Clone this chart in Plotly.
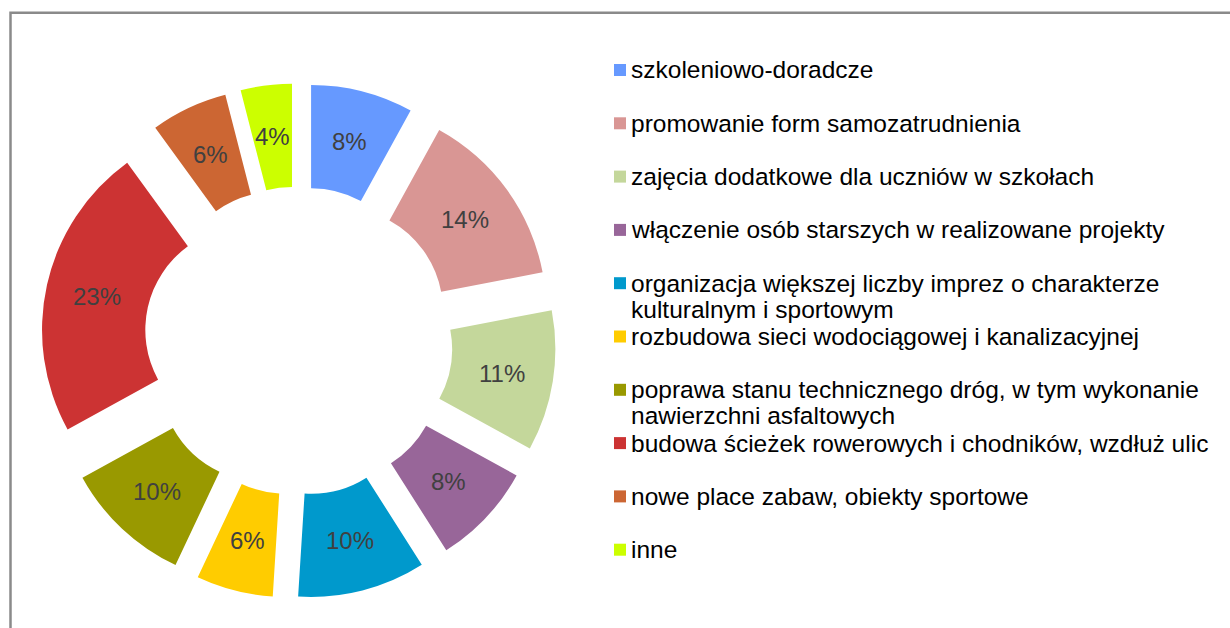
import math
import plotly.graph_objects as go

categories = [
    "szkoleniowo-doradcze",
    "promowanie form samozatrudnienia",
    "zajęcia dodatkowe dla uczniów w szkołach",
    "włączenie osób starszych w realizowane projekty",
    "organizacja większej liczby imprez o charakterze<br>kulturalnym i sportowym",
    "rozbudowa sieci wodociągowej i kanalizacyjnej",
    "poprawa stanu technicznego dróg, w tym wykonanie<br>nawierzchni asfaltowych",
    "budowa ścieżek rowerowych i chodników, wzdłuż ulic",
    "nowe place zabaw, obiekty sportowe",
    "inne",
]
values = [8, 14, 11, 8, 10, 6, 10, 23, 6, 4]
colors = ["#6699FF", "#D99694", "#C4D79B", "#986699", "#0099CC",
          "#FFCC00", "#999900", "#CC3333", "#CC6633", "#CCFF00"]

W, H = 1230, 628
FONT = "Liberation Sans, Arial, sans-serif"
HOLE = 0.5
PULL = 0.247
DOMAIN = dict(x=[40.8 / W, 556 / W], y=[1 - 598.6 / H, 1 - 83.4 / H])

fig = go.Figure(go.Pie(
    labels=[c.replace("<br>", " ") for c in categories],
    values=values,
    sort=False,
    direction="clockwise",
    rotation=0,
    hole=HOLE,
    pull=[PULL] * len(values),
    marker=dict(colors=colors, line=dict(width=0)),
    textinfo="none",
    hoverinfo="skip",
    showlegend=False,
    domain=DOMAIN,
))

annotations = []

# percentage labels at the middle of each pulled ring segment
# (pie geometry follows plotly's own sizing: r = box/2 / (1 + pull))
box_px = min((DOMAIN["x"][1] - DOMAIN["x"][0]) * W, (DOMAIN["y"][1] - DOMAIN["y"][0]) * H)
r_px = box_px / 2 / (1 + PULL)
cx_p = sum(DOMAIN["x"]) / 2
cy_p = sum(DOMAIN["y"]) / 2
dist_px = r_px * (PULL + (1 + HOLE) / 2)
total = sum(values)
cum = 0
for v in values:
    theta = math.radians((cum + v / 2) / total * 360)
    cum += v
    annotations.append(dict(
        xref="paper", yref="paper",
        x=cx_p + dist_px * math.sin(theta) / W,
        y=cy_p + dist_px * math.cos(theta) / H,
        xanchor="center", yanchor="middle",
        text=f"{round(v / total * 100)}%", showarrow=False,
        font=dict(family=FONT, size=24, color="#404040"),
    ))

# legend drawn as annotations + square swatches
shapes = []
item_y0, item_step, line_step = 70, 53.3, 26
for i, (cat, col) in enumerate(zip(categories, colors)):
    yc = item_y0 + item_step * i
    shapes.append(dict(type="rect", xref="paper", yref="paper",
                       x0=614 / W, x1=626 / W,
                       y0=1 - (yc + 6) / H, y1=1 - (yc - 6) / H,
                       fillcolor=col, line=dict(width=0)))
    for j, line in enumerate(cat.split("<br>")):
        annotations.append(dict(xref="paper", yref="paper",
                                x=629 / W, y=1 - (yc + line_step * j) / H,
                                xanchor="left", yanchor="middle",
                                text=line, showarrow=False,
                                font=dict(family=FONT, size=24.5, color="#000000")))

# outer frame
shapes.append(dict(type="rect", xref="paper", yref="paper",
                   x0=10.5 / W, x1=1.05, y0=-0.05, y1=1 - 12.8 / H,
                   line=dict(color="#8a8a8a", width=2.5), fillcolor="rgba(0,0,0,0)"))

fig.update_layout(
    width=W, height=H,
    margin=dict(l=0, r=0, t=0, b=0),
    paper_bgcolor="white",
    plot_bgcolor="white",
    shapes=shapes,
    annotations=annotations,
    font=dict(family=FONT),
)

fig.write_html(
    "out.html",
    config={"displayModeBar": False},
    post_script="document.body.style.margin='0';document.body.style.overflow='hidden';",
)
